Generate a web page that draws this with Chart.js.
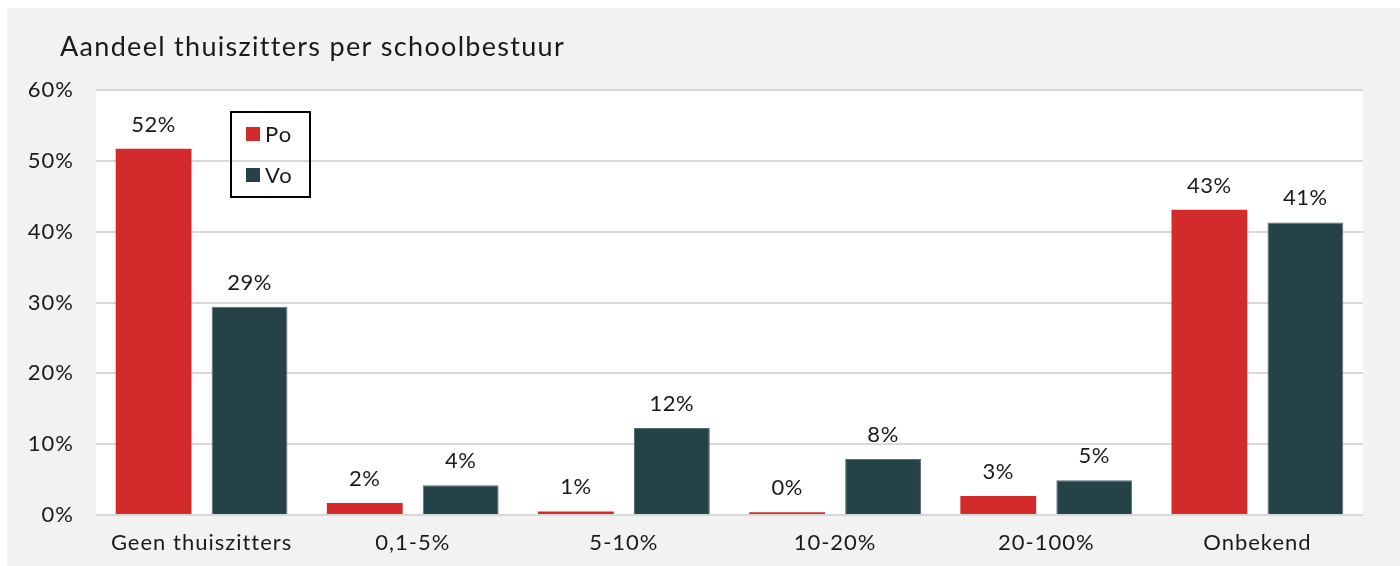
<!DOCTYPE html>
<html>
<head>
<meta charset="utf-8">
<script src="https://cdn.jsdelivr.net/npm/chart.js@4/dist/chart.umd.min.js"></script>
<style>
  html, body { margin: 0; padding: 0; background: #fff; }
  #wrap { width: 1400px; height: 566px; }
</style>
</head>
<body>
<div id="wrap"><canvas id="myChart" width="1400" height="566"></canvas></div>
<script>
// Gegevens van de grafiek
var titel = 'Aandeel thuiszitters per schoolbestuur';
var categorieen = ['Geen thuiszitters', '0,1-5%', '5-10%', '10-20%', '20-100%', 'Onbekend'];
var po = [51.7, 1.7, 0.5, 0.4, 2.7, 43.1];
var vo = [29.4, 4.2, 12.3, 7.9, 4.9, 41.3];
var yTicks = [0, 10, 20, 30, 40, 50, 60];

var rood = '#d32b2b';
var donker = '#264249';
var lettertype = 'Lato, "Noto Sans", sans-serif';

// Achtergrond, titel, labels boven de staven en legenda
var tekenPlugin = {
  id: 'tekenPlugin',
  beforeDraw: function(chart) {
    var ctx = chart.ctx;
    var a = chart.chartArea;
    ctx.save();
    ctx.fillStyle = '#f2f2f2';
    ctx.fillRect(7, 8, chart.width - 7, chart.height - 8);
    ctx.fillStyle = '#ffffff';
    ctx.fillRect(a.left, a.top, a.right - a.left, a.bottom - a.top);
    ctx.fillStyle = '#1a1a1a';
    ctx.font = '27px ' + lettertype;
    ctx.letterSpacing = '1.3px';
    ctx.textBaseline = 'alphabetic';
    ctx.textAlign = 'left';
    ctx.fillText(titel, 60, 56);
    ctx.restore();
    // iets bredere letters voor de aslabels
    ctx.letterSpacing = '1px';
  },
  afterDatasetsDraw: function(chart) {
    var ctx = chart.ctx;
    ctx.save();
    ctx.fillStyle = '#1a1a1a';
    ctx.font = '22px ' + lettertype;
    ctx.letterSpacing = '0.5px';
    ctx.textAlign = 'center';
    ctx.textBaseline = 'alphabetic';
    chart.data.datasets.forEach(function(ds, i) {
      chart.getDatasetMeta(i).data.forEach(function(bar, j) {
        ctx.fillText(Math.round(ds.data[j]) + '%', bar.x, bar.y - 17);
      });
    });

    // Legenda
    var a = chart.chartArea;
    var lx = a.left + 135, ly = a.top + 22;
    ctx.strokeStyle = '#000';
    ctx.lineWidth = 2;
    ctx.strokeRect(lx, ly, 79, 85);
    ctx.textAlign = 'left';
    ctx.letterSpacing = '1px';
    chart.data.datasets.forEach(function(ds, i) {
      var y = ly + 15 + i * 41;
      ctx.fillStyle = ds.backgroundColor;
      ctx.fillRect(lx + 15, y, 14, 14);
      ctx.fillStyle = '#1a1a1a';
      ctx.fillText(ds.label, lx + 34, y + 15);
    });
    ctx.restore();
  }
};

var ctx = document.getElementById('myChart').getContext('2d');
var chart = new Chart(ctx, {
  type: 'bar',
  data: {
    labels: categorieen,
    datasets: [
      {
        label: 'Po',
        data: po,
        backgroundColor: rood,
        borderWidth: 0,
        categoryPercentage: 0.909,
        barPercentage: 0.79
      },
      {
        label: 'Vo',
        data: vo,
        backgroundColor: donker,
        borderColor: '#5a6f76',
        borderWidth: 1,
        categoryPercentage: 0.909,
        barPercentage: 0.79
      }
    ]
  },
  options: {
    responsive: false,
    animation: false,
    layout: { padding: { top: 90, right: 37, left: 0, bottom: 0 } },
    plugins: {
      legend: { display: false },
      title: { display: false },
      tooltip: { enabled: false }
    },
    scales: {
      x: {
        grid: { display: false, drawTicks: false },
        border: { display: false },
        ticks: {
          padding: 15,
          color: '#1a1a1a',
          font: { family: lettertype, size: 22 }
        },
        afterFit: function(s) { s.height = 51; }
      },
      y: {
        min: 0,
        max: 60,
        afterBuildTicks: function(s) {
          s.ticks = yTicks.map(function(v) { return { value: v }; });
        },
        grid: { color: '#d9d9d9', lineWidth: 2, drawTicks: false },
        border: { display: false },
        ticks: {
          padding: 22,
          color: '#1a1a1a',
          font: { family: lettertype, size: 22 },
          callback: function(v) { return v + '%'; }
        },
        afterFit: function(s) { s.width = 96; }
      }
    }
  },
  plugins: [tekenPlugin]
});
</script>
</body>
</html>
